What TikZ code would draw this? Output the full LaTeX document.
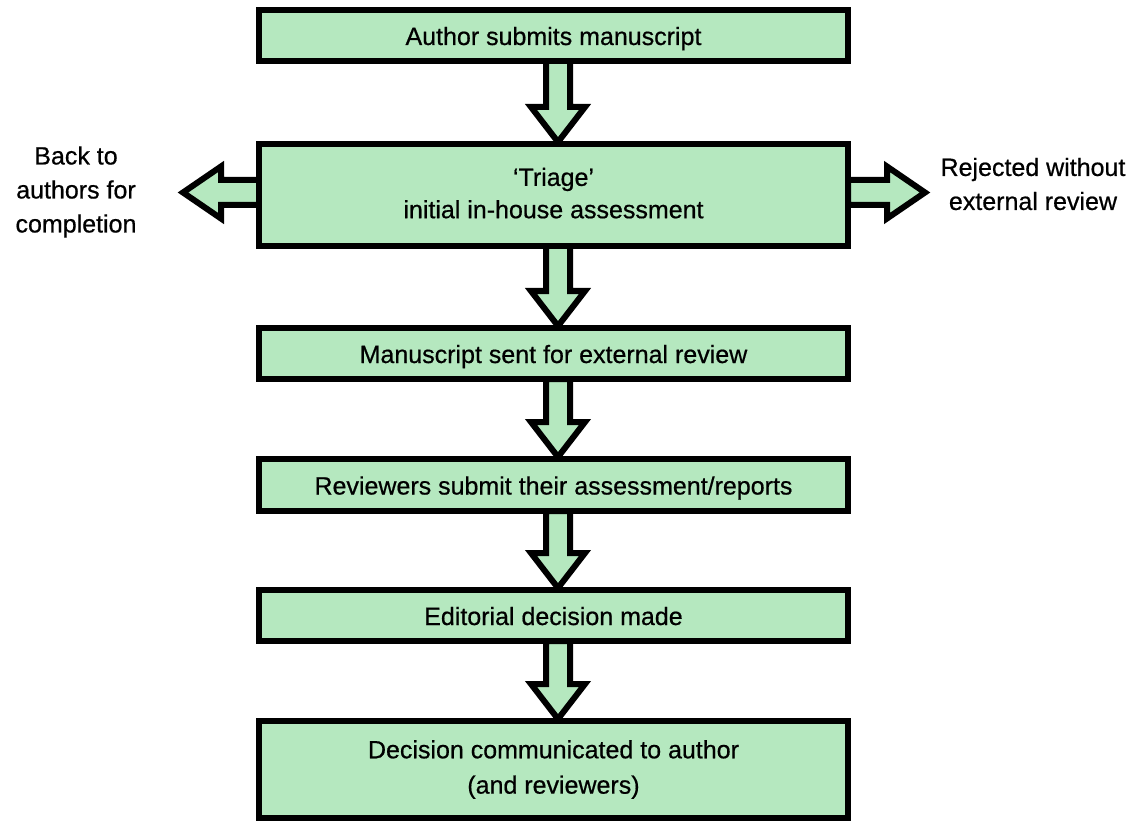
\documentclass[tikz,border=0pt]{standalone}
\usepackage{fontspec}
\setmainfont{Liberation Sans}[BoldFont=Liberation Sans, BoldFeatures={FakeBold=0.6}]
\usetikzlibrary{calc,backgrounds}
\definecolor{boxgreen}{RGB}{181,232,191}
\tikzset{
  flowbox/.style={draw=black, line width=6pt, fill=boxgreen, rectangle,
    minimum width=589pt, outer sep=0pt, inner sep=0pt, align=center,
    font=\fontsize{25}{34}\selectfont\bfseries},
  oneline/.style={text height=24pt, text depth=5pt},
  sidelabel/.style={align=center, inner sep=0pt, font=\fontsize{25}{34}\selectfont\bfseries},
  blockarrow/.style={draw=black, line width=6pt, fill=boxgreen, line join=miter, miter limit=10}
}
\newcommand\blockdown[2]{%
  \coordinate (s) at ($(#1.south)+(4.5,0)$);
  \coordinate (t) at ($(#2.north)+(4.5,-2)$);
  \draw[blockarrow] ([xshift=-12pt]s) -- ([xshift=-12pt,yshift=35pt]t) -- ([xshift=-27pt,yshift=35pt]t) -- (t)
     -- ([xshift=27pt,yshift=35pt]t) -- ([xshift=12pt,yshift=35pt]t) -- ([xshift=12pt]s) -- cycle;
}
\newcommand\blockside[3]{%
  \coordinate (s) at #1;
  \draw[blockarrow] ([yshift=12.5pt]s) -- ([yshift=12.5pt,xshift=#3*38pt]#2) -- ([yshift=26pt,xshift=#3*38pt]#2) -- (#2)
     -- ([yshift=-26pt,xshift=#3*38pt]#2) -- ([yshift=-12.5pt,xshift=#3*38pt]#2) -- ([yshift=-12.5pt]s) -- cycle;
}
\begin{document}
\begin{tikzpicture}[x=1pt,y=-1pt]
\useasboundingbox (0,0) rectangle (1133,821);
\node[flowbox, oneline, minimum height=51pt] (b1) at (553.5,35.5) {Author submits manuscript};
\node[flowbox, minimum height=102pt] (b2) at (553.5,195) {\raisebox{4pt}{\shortstack{‘Triage’\\[6pt]initial in-house assessment}}};
\node[flowbox, oneline, minimum height=51pt] (b3) at (553.5,353.5) {Manuscript sent for external review};
\node[flowbox, oneline, minimum height=52pt] (b4) at (553.5,485) {Reviewers submit their assessment/reports};
\node[flowbox, oneline, minimum height=51pt] (b5) at (553.5,615.5) {Editorial decision made};
\node[flowbox, minimum height=97pt] (b6) at (553.5,769.5) {\raisebox{-5pt}{\shortstack{Decision communicated to author\\[14pt](and reviewers)}}};
\coordinate (backtip) at (183,192.5);
\coordinate (rejtip) at (925,192.5);
\node[sidelabel] (back) at (76,192) {Back to\\authors for\\completion};
\node[sidelabel] (rej) at (1033,184) {Rejected without\\external review};
\begin{pgfonlayer}{background}
\blockdown{b1}{b2}
\blockdown{b2}{b3}
\blockdown{b3}{b4}
\blockdown{b4}{b5}
\blockdown{b5}{b6}
\blockside{($(b2.west)+(0,-2.5)$)}{backtip}{1}
\blockside{($(b2.east)+(0,-2.5)$)}{rejtip}{-1}
\end{pgfonlayer}
\end{tikzpicture}
\end{document}
